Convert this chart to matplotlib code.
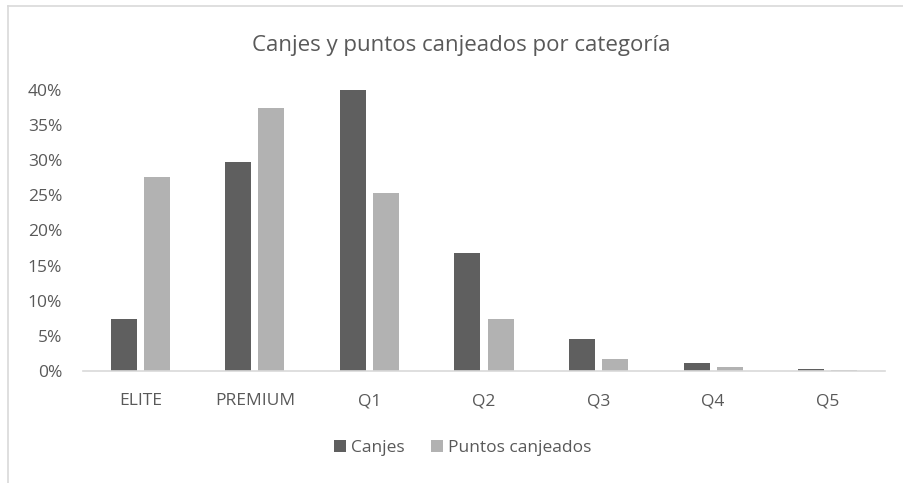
import matplotlib

matplotlib.use("Agg")
import matplotlib.pyplot as plt
import numpy as np
from matplotlib.lines import Line2D
from matplotlib.ticker import FuncFormatter

categorias = ["ELITE", "PREMIUM", "Q1", "Q2", "Q3", "Q4", "Q5"]
canjes = [0.074, 0.297, 0.400, 0.1675, 0.0455, 0.0114, 0.0028]
puntos_canjeados = [0.276, 0.375, 0.253, 0.0736, 0.0166, 0.0053, 0.0010]

DARK = "#5f5f5f"
LIGHT = "#b2b2b2"
TEXT = "#595959"

plt.rcParams["font.family"] = ["Open Sans", "DejaVu Sans"]

fig = plt.figure(figsize=(9.04, 4.83), dpi=100)
ax = fig.add_axes([0.0918, 0.232, 0.8872, 0.5817])

x = np.arange(len(categorias))
width = 0.227
ax.bar(x - 0.145, canjes, width, color=DARK, label="Canjes", clip_on=False)
ax.bar(x + 0.145, puntos_canjeados, width, color=LIGHT, label="Puntos canjeados", clip_on=False)

ax.set_xlim(-0.5, len(categorias) - 0.5)
ax.set_ylim(0, 0.40)
ax.set_yticks(np.arange(0, 0.41, 0.05))
ax.yaxis.set_major_formatter(FuncFormatter(lambda v, _: f"{v * 100:.0f}%"))
ax.set_xticks(x)
ax.set_xticklabels(categorias)

for side in ("top", "right", "left"):
    ax.spines[side].set_visible(False)
ax.spines["bottom"].set_color("#d9d9d9")
ax.spines["bottom"].set_linewidth(1.2)
ax.tick_params(axis="both", length=0, colors=TEXT, labelsize=12.5)
ax.tick_params(axis="y", pad=15)
ax.tick_params(axis="x", pad=16)

fig.text(0.51, 0.905, "Canjes y puntos canjeados por categoría", ha="center",
         va="center", fontsize=16, color=TEXT)

fig.legend(loc="center", bbox_to_anchor=(0.512, 0.072), ncol=2, frameon=False,
           fontsize=12.5, labelcolor=TEXT, handlelength=0.7, handleheight=0.7,
           handletextpad=0.3, columnspacing=1.5)

# chart area border (top and left edges)
fig.add_artist(Line2D([8 / 904, 1], [1 - 5.5 / 483] * 2, color="#d9d9d9", lw=1.2))
fig.add_artist(Line2D([8 / 904] * 2, [0, 1 - 5.5 / 483], color="#d9d9d9", lw=1.2))

fig.savefig("out.png", dpi=100)
